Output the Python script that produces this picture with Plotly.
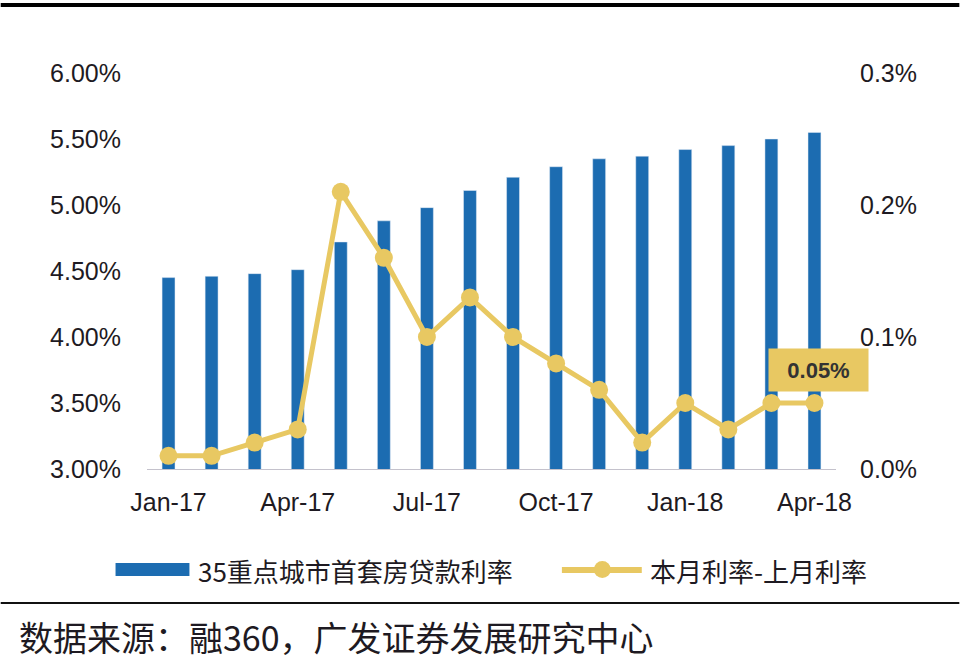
import plotly.graph_objects as go

# ---- data ----
months = ["Jan-17", "Feb-17", "Mar-17", "Apr-17", "May-17", "Jun-17", "Jul-17", "Aug-17",
          "Sep-17", "Oct-17", "Nov-17", "Dec-17", "Jan-18", "Feb-18", "Mar-18", "Apr-18"]
rate = [4.45, 4.46, 4.48, 4.51, 4.72, 4.88, 4.98, 5.11,
        5.21, 5.29, 5.35, 5.37, 5.42, 5.45, 5.50, 5.55]
change = [0.01, 0.01, 0.02, 0.03, 0.21, 0.16, 0.10, 0.13,
          0.10, 0.08, 0.06, 0.02, 0.05, 0.03, 0.05, 0.05]
series_names = ["35重点城市首套房贷款利率", "本月利率-上月利率"]
x_tick_months = ["Jan-17", "Apr-17", "Jul-17", "Oct-17", "Jan-18", "Apr-18"]
left_ticks = [3.0, 3.5, 4.0, 4.5, 5.0, 5.5, 6.0]
right_ticks = [0.0, 0.1, 0.2, 0.3]
source_text = "数据来源：融360，广发证券发展研究中心"
callout_text = "0.05%"

BLUE = "#1C6CB1"
GOLD = "#E8C862"
TXT = "#1e1a22"
LAT = "Liberation Sans, Arial, sans-serif"
CJK = "Noto Sans CJK SC, sans-serif"

W, H = 960, 661
L, R, T, B = 146.5, 123.5, 73, 192
pw, ph = W - L - R, H - T - B


def px(x):
    return (x - L) / pw


def py(y):
    return (H - B - y) / ph


fig = go.Figure()
fig.add_trace(go.Bar(x=months, y=rate, name=series_names[0], marker_color=BLUE,
                     width=0.30, yaxis="y", showlegend=False))
fig.add_trace(go.Scatter(x=months, y=change, name=series_names[1], yaxis="y2",
                         mode="lines+markers", line=dict(color=GOLD, width=5),
                         marker=dict(size=18, color=GOLD), cliponaxis=False,
                         showlegend=False))

shapes = [
    # top border
    dict(type="line", xref="paper", yref="paper", x0=px(0), x1=px(960), y0=py(5), y1=py(5),
         line=dict(color="#000", width=4)),
    # separator
    dict(type="line", xref="paper", yref="paper", x0=px(0), x1=px(960), y0=py(603), y1=py(603),
         line=dict(color="#111", width=2)),
    # legend bar swatch
    dict(type="rect", xref="paper", yref="paper", x0=px(115), x1=px(189), y0=py(576), y1=py(563),
         fillcolor=BLUE, line=dict(width=0)),
    # legend line swatch
    dict(type="line", xref="paper", yref="paper", x0=px(562), x1=px(642), y0=py(570), y1=py(570),
         line=dict(color=GOLD, width=6)),
    dict(type="circle", xref="paper", yref="paper", x0=px(594), x1=px(611), y0=py(578), y1=py(561),
         fillcolor=GOLD, line=dict(width=0)),
]

annotations = [
    dict(xref="paper", yref="paper", x=px(196), y=py(570), xanchor="left", yanchor="middle",
         text=series_names[0], showarrow=False, font=dict(family=CJK, size=26, color=TXT)),
    dict(xref="paper", yref="paper", x=px(648), y=py(570), xanchor="left", yanchor="middle",
         text=series_names[1], showarrow=False, font=dict(family=CJK, size=26, color=TXT)),
    dict(xref="paper", yref="paper", x=px(16), y=py(636), xanchor="left", yanchor="middle",
         text=source_text, showarrow=False, font=dict(family=CJK, size=34, color=TXT)),
    dict(xref="x", yref="y2", x=months[-1], y=0.075, xshift=4, text="<b>" + callout_text + "</b>",
         showarrow=False, bgcolor=GOLD, width=97, height=40, borderpad=1,
         font=dict(family=LAT, size=22, color="#333")),
]

fig.update_layout(
    width=W, height=H, margin=dict(l=L, r=R, t=T, b=B, pad=0),
    paper_bgcolor="white", plot_bgcolor="white",
    bargap=0.7, shapes=shapes, annotations=annotations, showlegend=False,
    xaxis=dict(type="category", tickmode="array", tickvals=x_tick_months, ticktext=x_tick_months,
               showline=True, linecolor="#C4C2CC", linewidth=1, showgrid=False, ticks="",
               tickfont=dict(family=LAT, size=25, color=TXT), ticklabelstandoff=11,
               range=[-0.5, len(months) - 0.5]),
    yaxis=dict(range=[3, 6], tickmode="array", tickvals=left_ticks,
               ticktext=["%.2f%%" % v for v in left_ticks], showgrid=False, zeroline=False,
               showline=False, ticks="", tickfont=dict(family=LAT, size=25, color=TXT),
               ticklabelstandoff=25),
    yaxis2=dict(range=[0, 0.3], overlaying="y", side="right", tickmode="array",
                tickvals=right_ticks, ticktext=["%.1f%%" % v for v in right_ticks],
                showgrid=False, zeroline=False, showline=False, ticks="",
                tickfont=dict(family=LAT, size=25, color=TXT), ticklabelstandoff=23),
)

fig.write_html("out.html")
